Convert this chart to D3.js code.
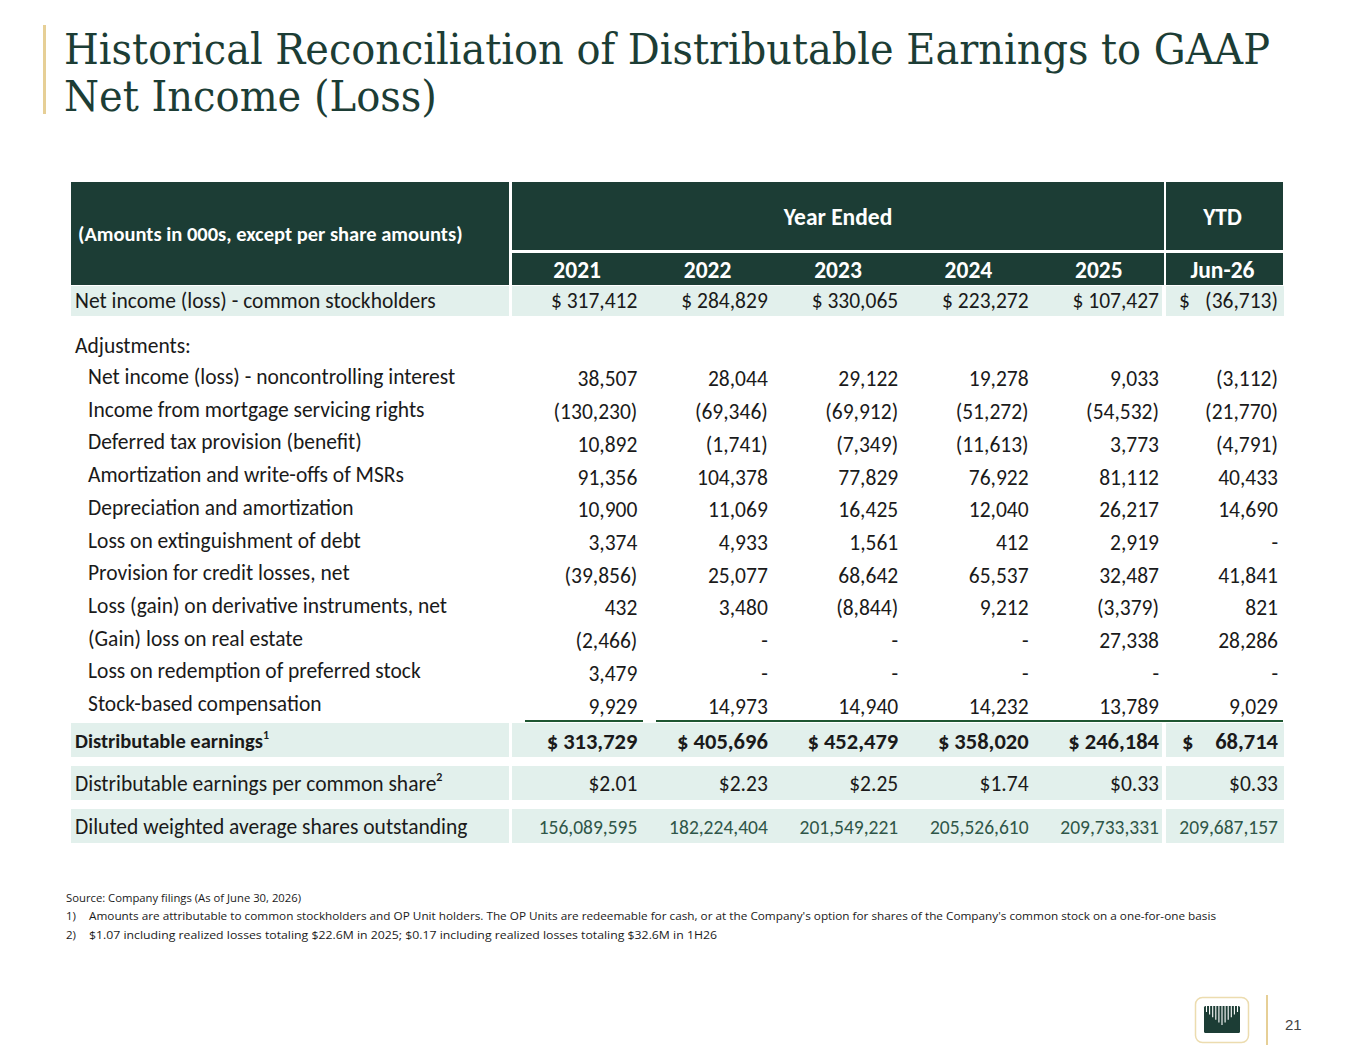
<!DOCTYPE html>
<html>
<head>
<meta charset="utf-8">
<script src="https://cdn.jsdelivr.net/npm/d3@7"></script>
<style>
  body { margin: 0; background: #fff; }
  svg { display: block; }
</style>
</head>
<body>
<script>
// ---- data ----
const years = ["2021", "2022", "2023", "2024", "2025"];
const ytdLabel = "Jun-26";

const netIncome = [317412, 284829, 330065, 223272, 107427, -36713];

const adjLabels = [
  "Net income (loss) - noncontrolling interest",
  "Income from mortgage servicing rights",
  "Deferred tax provision (benefit)",
  "Amortization and write-offs of MSRs",
  "Depreciation and amortization",
  "Loss on extinguishment of debt",
  "Provision for credit losses, net",
  "Loss (gain) on derivative instruments, net",
  "(Gain) loss on real estate",
  "Loss on redemption of preferred stock",
  "Stock-based compensation"
];
const adjValues = [
  [38507, 28044, 29122, 19278, 9033, -3112],
  [-130230, -69346, -69912, -51272, -54532, -21770],
  [10892, -1741, -7349, -11613, 3773, -4791],
  [91356, 104378, 77829, 76922, 81112, 40433],
  [10900, 11069, 16425, 12040, 26217, 14690],
  [3374, 4933, 1561, 412, 2919, 0],
  [-39856, 25077, 68642, 65537, 32487, 41841],
  [432, 3480, -8844, 9212, -3379, 821],
  [-2466, 0, 0, 0, 27338, 28286],
  [3479, 0, 0, 0, 0, 0],
  [9929, 14973, 14940, 14232, 13789, 9029]
];

const distEarnings = [313729, 405696, 452479, 358020, 246184, 68714];
const epsValues = [2.01, 2.23, 2.25, 1.74, 0.33, 0.33];
const sharesOut = [156089595, 182224404, 201549221, 205526610, 209733331, 209687157];

const titleLines = ["Historical Reconciliation of Distributable Earnings to GAAP", "Net Income (Loss)"];
const sourceNote = "Source: Company filings (As of June 30, 2026)";
const footnotes = [
  "Amounts are attributable to common stockholders and OP Unit holders. The OP Units are redeemable for cash, or at the Company's option for shares of the Company's common stock on a one-for-one basis",
  "$1.07 including realized losses totaling $22.6M in 2025; $0.17 including realized losses totaling $32.6M in 1H26"
];
const pageNumber = "21";

// ---- layout ----
const W = 1365, H = 1055;
const dark = "#1c3d35", band = "#e2f0ec", ink = "#1a1a1a", gold = "#e6cf96";
const tableFont = "Calibri, Carlito, Lato, sans-serif";
const fs = 21.5;

const svg = d3.select("body").append("svg").attr("width", W).attr("height", H);

const fmt = d3.format(",");
const acct = v => v === 0 ? "-" : v < 0 ? "(" + fmt(-v) + ")" : fmt(v);

// columns
const x = d3.scaleBand().domain(years).range([512, 1164]);
const ytd = { x0: 1166, x1: 1283 };
const labelCell = { x0: 71, x1: 509 };
const colRight = i => i < years.length ? x(years[i]) + x.bandwidth() - 5 : ytd.x1 - 5;

// rows for adjustments
const y = d3.scaleBand().domain(adjLabels).range([361.5, 721.5]);

// ---- title ----
svg.append("rect").attr("x", 43).attr("y", 25).attr("width", 3).attr("height", 89).attr("fill", gold);
const title = svg.append("g")
  .attr("font-family", "'DejaVu Serif Condensed', 'DejaVu Serif', serif")
  .attr("font-size", 43).attr("fill", dark);
title.selectAll("text").data(titleLines).join("text")
  .attr("x", 64).attr("y", (d, i) => 64 + i * 47)
  .attr("textLength", (d, i) => i === 0 ? 1206 : 373)
  .attr("lengthAdjust", "spacingAndGlyphs")
  .text(d => d);

// ---- header ----
const head = svg.append("g").attr("font-family", tableFont).attr("font-weight", "bold").attr("fill", "#fff");
head.append("rect").attr("x", labelCell.x0).attr("y", 182).attr("width", labelCell.x1 - labelCell.x0).attr("height", 103).attr("fill", dark);
head.append("rect").attr("x", x.range()[0]).attr("y", 182).attr("width", x.range()[1] - x.range()[0]).attr("height", 68).attr("fill", dark);
head.append("rect").attr("x", ytd.x0).attr("y", 182).attr("width", ytd.x1 - ytd.x0).attr("height", 68).attr("fill", dark);
head.append("rect").attr("x", x.range()[0]).attr("y", 253).attr("width", x.range()[1] - x.range()[0]).attr("height", 32).attr("fill", dark);
head.append("rect").attr("x", ytd.x0).attr("y", 253).attr("width", ytd.x1 - ytd.x0).attr("height", 32).attr("fill", dark);

head.append("text").attr("x", 78).attr("y", 241).attr("font-size", 20.5)
  .text("(Amounts in 000s, except per share amounts)");
head.append("text").attr("x", (x.range()[0] + x.range()[1]) / 2).attr("y", 225)
  .attr("text-anchor", "middle").attr("font-size", 23.5).text("Year Ended");
head.append("text").attr("x", (ytd.x0 + ytd.x1) / 2 - 2).attr("y", 225)
  .attr("text-anchor", "middle").attr("font-size", 23.5).text("YTD");
head.selectAll("text.yr").data(years.concat([ytdLabel])).join("text").attr("class", "yr")
  .attr("x", (d, i) => i < years.length ? x(d) + x.bandwidth() / 2 : (ytd.x0 + ytd.x1) / 2 - 2)
  .attr("y", 278).attr("text-anchor", "middle").attr("font-size", 23.5)
  .text(d => d);

// ---- helper for shaded rows ----
function bandRow(y0, h) {
  const g = svg.append("g");
  [[labelCell.x0, labelCell.x1], [x.range()[0], x.range()[1] - 2], [ytd.x0, ytd.x1 + 1]].forEach(([a, b]) =>
    g.append("rect").attr("x", a).attr("y", y0).attr("width", b - a).attr("height", h).attr("fill", band));
}

function valueRow(values, yb, opts) {
  const g = svg.append("g").attr("font-family", tableFont).attr("font-size", opts.size || fs)
    .attr("fill", opts.color || ink).attr("font-weight", opts.bold ? "bold" : "normal");
  g.selectAll("text").data(values).join("text")
    .attr("x", (d, i) => colRight(i)).attr("y", yb).attr("text-anchor", "end")
    .text((d, i) => opts.dollar && i < years.length ? "$ " + opts.f(d) : opts.f(d));
  if (opts.dollar) {
    g.append("text").attr("x", ytd.x0 + (opts.bold ? 16 : 13)).attr("y", yb).text("$");
  }
  return g;
}

// net income
bandRow(286, 30);
svg.append("text").attr("x", 75).attr("y", 308).attr("font-family", tableFont).attr("font-size", fs).attr("fill", ink)
  .text("Net income (loss) - common stockholders");
valueRow(netIncome, 308, { f: acct, dollar: true });

svg.append("text").attr("x", 75).attr("y", 353).attr("font-family", tableFont).attr("font-size", fs).attr("fill", ink)
  .text("Adjustments:");

// adjustments
const adj = svg.append("g").attr("font-family", tableFont).attr("font-size", fs).attr("fill", ink);
adj.selectAll("text.lab").data(adjLabels).join("text").attr("class", "lab")
  .attr("x", 88).attr("y", d => y(d) + y.bandwidth() / 2 + 6)
  .text(d => d);
adjLabels.forEach((lab, r) => {
  adj.selectAll(null).data(adjValues[r]).join("text")
    .attr("x", (d, i) => colRight(i)).attr("y", y(lab) + y.bandwidth() / 2 + 8.5)
    .attr("text-anchor", "end")
    .text(d => acct(d));
});

// total underline
const ulY = y.range()[1] - 0.5;
[[525, 643], [656, ytd.x1]].forEach(([a, b]) =>
  svg.append("line").attr("x1", a).attr("x2", b).attr("y1", ulY).attr("y2", ulY)
    .attr("stroke", "#1e5631").attr("stroke-width", 2.2));

// distributable earnings
bandRow(723, 34);
const deLab = svg.append("text").attr("x", 75).attr("y", 748).attr("font-family", tableFont)
  .attr("font-size", 20.5).attr("font-weight", "bold").attr("fill", ink);
deLab.append("tspan").text("Distributable earnings");
deLab.append("tspan").attr("font-size", 12).attr("dy", -9).text("1");
valueRow(distEarnings, 749, { f: fmt, dollar: true, bold: true, size: 22.5 });

// per share
bandRow(766, 34);
const epsLab = svg.append("text").attr("x", 75).attr("y", 791).attr("font-family", tableFont)
  .attr("font-size", fs).attr("fill", ink);
epsLab.append("tspan").text("Distributable earnings per common share");
epsLab.append("tspan").attr("font-size", 12).attr("font-weight", "bold").attr("dy", -10).text("2");
valueRow(epsValues, 791, { f: d => "$" + d.toFixed(2) });

// shares
bandRow(809, 34);
svg.append("text").attr("x", 75).attr("y", 834).attr("font-family", tableFont).attr("font-size", fs).attr("fill", ink)
  .text("Diluted weighted average shares outstanding");
valueRow(sharesOut, 834, { f: fmt, color: "#2f5648", size: 19.5 });

// ---- footnotes ----
const foot = svg.append("g").attr("font-family", "'Liberation Sans Narrow', 'Open Sans', sans-serif")
  .attr("font-size", 11.5).attr("fill", ink);
foot.append("text").attr("x", 66).attr("y", 902).attr("textLength", 235).attr("lengthAdjust", "spacingAndGlyphs").text(sourceNote);
foot.selectAll("text.fn").data(footnotes).join("text").attr("class", "fn")
  .attr("x", 89).attr("y", (d, i) => 920 + i * 19)
  .attr("textLength", (d, i) => i === 0 ? 1127 : 628).attr("lengthAdjust", "spacingAndGlyphs")
  .text(d => d);
foot.selectAll("text.fnum").data(footnotes).join("text").attr("class", "fnum")
  .attr("x", 66).attr("y", (d, i) => 920 + i * 19).text((d, i) => (i + 1) + ")");

// ---- logo + page number ----
const logo = svg.append("g").attr("transform", "translate(1195,997)");
logo.append("rect").attr("x", 0.5).attr("y", 0.5).attr("width", 53).attr("height", 45).attr("rx", 7)
  .attr("fill", "#fff").attr("stroke", "#ecdcaf").attr("stroke-width", 1.5);
logo.append("rect").attr("x", 9).attr("y", 9).attr("width", 36).attr("height", 27).attr("rx", 1.5).attr("fill", dark);
d3.range(11).forEach(i => {
  const lx = 11.5 + i * 3.1;
  const depth = 6 + (5 - Math.abs(i - 5)) * 2.6;
  logo.append("line").attr("x1", lx).attr("x2", lx).attr("y1", 9).attr("y2", 9 + depth)
    .attr("stroke", "#fff").attr("stroke-width", 1.1);
});
svg.append("line").attr("x1", 1267).attr("x2", 1267).attr("y1", 995).attr("y2", 1045)
  .attr("stroke", gold).attr("stroke-width", 2);
svg.append("text").attr("x", 1285).attr("y", 1030).attr("font-family", "'Liberation Sans', Arial, sans-serif")
  .attr("font-size", 15).attr("fill", "#444").text(pageNumber);
</script>
</body>
</html>
